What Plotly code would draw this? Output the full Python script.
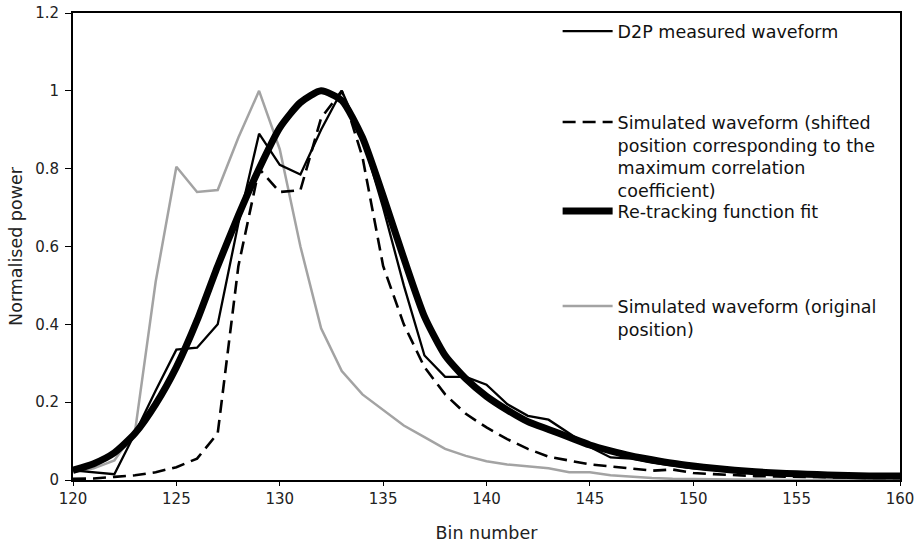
import plotly.graph_objects as go

bins = list(range(120, 161))

measured = [0.025, 0.02, 0.015, 0.12, 0.23, 0.335, 0.34, 0.40, 0.66, 0.89,
            0.81, 0.785, 0.90, 1.0, 0.88, 0.70, 0.50, 0.32, 0.265, 0.265,
            0.245, 0.195, 0.165, 0.155, 0.12, 0.085, 0.058, 0.055, 0.045, 0.038,
            0.03, 0.027, 0.022, 0.02, 0.017, 0.015, 0.013, 0.012, 0.01, 0.01, 0.01]

sim_shifted = [0.003, 0.004, 0.008, 0.012, 0.02, 0.033, 0.055, 0.12, 0.55, 0.80,
               0.74, 0.745, 0.93, 1.0, 0.83, 0.55, 0.40, 0.29, 0.22, 0.17,
               0.135, 0.105, 0.08, 0.06, 0.05, 0.04, 0.035, 0.03, 0.024, 0.027,
               0.018, 0.015, 0.012, 0.01, 0.009, 0.008, 0.007, 0.006, 0.006, 0.005, 0.005]

fit = [0.025, 0.042, 0.07, 0.12, 0.195, 0.29, 0.41, 0.55, 0.68, 0.80,
       0.905, 0.97, 1.0, 0.975, 0.88, 0.73, 0.57, 0.42, 0.32, 0.26,
       0.215, 0.18, 0.15, 0.13, 0.11, 0.09, 0.075, 0.062, 0.052, 0.043,
       0.036, 0.03, 0.025, 0.021, 0.018, 0.016, 0.014, 0.012, 0.011, 0.01, 0.01]

sim_original = [0.02, 0.03, 0.05, 0.125, 0.51, 0.805, 0.74, 0.745, 0.88, 1.0,
                0.85, 0.6, 0.39, 0.28, 0.22, 0.18, 0.14, 0.11, 0.08, 0.062,
                0.048, 0.04, 0.035, 0.03, 0.02, 0.02, 0.012, 0.008, 0.005, 0.003,
                0.002, 0.001, 0.001, 0.001, 0.0, 0.0, 0.0, 0.0, 0.0, 0.0, 0.0]

names = ["D2P measured waveform",
         "Simulated waveform (shifted<br>position corresponding to the<br>maximum correlation<br>coefficient)",
         "Re-tracking function fit",
         "Simulated waveform (original<br>position)"]

FONT = "DejaVu Sans"

fig = go.Figure()
fig.add_trace(go.Scatter(x=bins, y=sim_original, mode="lines", name=names[3],
                         line=dict(color="#a3a3a3", width=2.5), legend="legend4"))
fig.add_trace(go.Scatter(x=bins, y=sim_shifted, mode="lines", name=names[1],
                         line=dict(color="black", width=2.6, dash="13px,7px"), legend="legend2"))
fig.add_trace(go.Scatter(x=bins, y=fit, mode="lines", name=names[2],
                         line=dict(color="black", width=7, shape="spline", smoothing=0.6),
                         legend="legend3"))
fig.add_trace(go.Scatter(x=bins, y=measured, mode="lines", name=names[0],
                         line=dict(color="black", width=2.3), legend="legend"))

leg_common = dict(bgcolor="rgba(0,0,0,0)", font=dict(family=FONT, size=17.5, color="#111"),
                  xanchor="left", x=0.586, itemwidth=50, valign="top",
                  tracegroupgap=0, itemclick=False)

fig.update_layout(
    width=917, height=547,
    margin=dict(l=73, r=17, t=13, b=67),
    paper_bgcolor="white", plot_bgcolor="white",
    showlegend=True,
    legend=dict(**leg_common, y=0.961, yanchor="middle"),
    legend2=dict(**leg_common, y=0.805, yanchor="top"),
    legend3=dict(**leg_common, y=0.576, yanchor="middle"),
    legend4=dict(**leg_common, y=0.411, yanchor="top"),
    xaxis=dict(range=[120, 160], dtick=5, tick0=120, showgrid=False, zeroline=False,
               automargin=False,
               showline=True, linecolor="black", linewidth=2, mirror=True,
               ticks="outside", ticklen=4, tickcolor="black",
               tickfont=dict(family=FONT, size=15, color="#222"),
               title=dict(text="Bin number", font=dict(family=FONT, size=17.5, color="#222"),
                          standoff=20)),
    yaxis=dict(range=[0, 1.2], dtick=0.2, tick0=0, showgrid=False, zeroline=False,
               automargin=False,
               showline=True, linecolor="black", linewidth=2, mirror=True,
               ticks="outside", ticklen=6, tickcolor="black", ticklabelstandoff=3,
               tickfont=dict(family=FONT, size=15, color="#222"),
               title=dict(text="Normalised power", font=dict(family=FONT, size=17.5, color="#222"),
                          standoff=8)),
)

fig.write_html("out.html")
